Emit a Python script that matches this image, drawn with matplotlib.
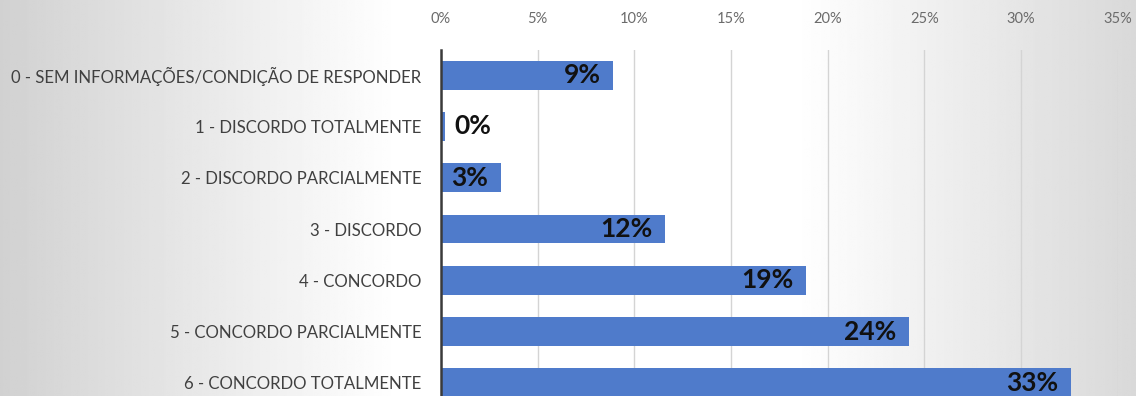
import numpy as np
import matplotlib.pyplot as plt
from matplotlib.ticker import PercentFormatter

categorias = [
    "0 - SEM INFORMAÇÕES/CONDIÇÃO DE RESPONDER",
    "1 - DISCORDO TOTALMENTE",
    "2 - DISCORDO PARCIALMENTE",
    "3 - DISCORDO",
    "4 - CONCORDO",
    "5 - CONCORDO PARCIALMENTE",
    "6 - CONCORDO TOTALMENTE",
]
valores = [8.9, 0.2, 3.1, 11.6, 18.9, 24.2, 32.6]
rotulos = ["9%", "0%", "3%", "12%", "19%", "24%", "33%"]
ticks = [0, 5, 10, 15, 20, 25, 30, 35]

plt.rcParams['font.family'] = ['Lato', 'DejaVu Sans']

fig = plt.figure(figsize=(11.36, 3.96), dpi=100)

# fundo em degrade (cinza nas bordas, branco no meio)
bg = fig.add_axes([0, 0, 1, 1])
xs = np.linspace(0, 1, 600)
tom = np.interp(xs, [0, 0.35, 0.70, 1], [0.82, 1.0, 1.0, 0.85])
bg.imshow(np.tile(tom, (10, 1)), cmap='gray', vmin=0, vmax=1,
          aspect='auto', extent=[0, 1, 0, 1])
bg.axis('off')

top_px, bottom_px = 49.5, 408.5
ax = fig.add_axes([441 / 1136, (396 - bottom_px) / 396,
                   (1117.5 - 441) / 1136, (bottom_px - top_px) / 396])
ax.patch.set_alpha(0)

y = np.arange(len(categorias))
ax.barh(y, valores, height=0.56, color='#4F7BCB', zorder=2)
ax.set_ylim(len(categorias) - 0.5, -0.5)
ax.set_xlim(0, 35)

ax.set_yticks(y)
ax.set_yticklabels(categorias, fontsize=12.1, color='#404040')
ax.set_xticks(ticks)
ax.xaxis.set_major_formatter(PercentFormatter(decimals=0))
ax.xaxis.tick_top()
ax.tick_params(axis='x', length=0, labelsize=10.5, labelcolor='#6b6b6b', pad=17)
ax.tick_params(axis='y', length=0, pad=14)
ax.grid(axis='x', color='#d4d4d4', linewidth=1, zorder=0)

for s in ['top', 'right', 'bottom']:
    ax.spines[s].set_visible(False)
ax.spines['left'].set_color('#3a3a3a')
ax.spines['left'].set_linewidth(1.8)
ax.spines['left'].set_zorder(3)

for yi, v, r in zip(y, valores, rotulos):
    if v < 1:
        ax.annotate(r, (v, yi), xytext=(7, 0), textcoords='offset points',
                    ha='left', va='center', fontsize=19, fontweight='bold',
                    color='#111111')
    else:
        ax.annotate(r, (v, yi), xytext=(-9, 0), textcoords='offset points',
                    ha='right', va='center', fontsize=19, fontweight='bold',
                    color='#111111')

fig.savefig('out.png', dpi=100)
